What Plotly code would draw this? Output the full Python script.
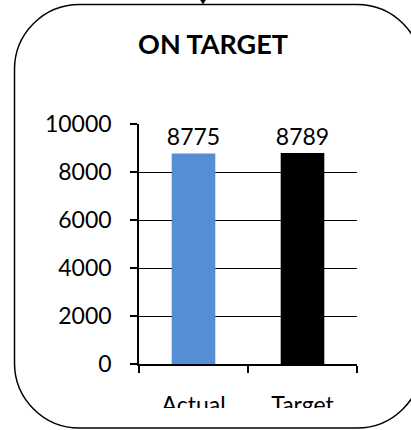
import plotly.graph_objects as go

# Chart data
categories = ["Actual", "Target"]
values = [8775, 8789]
bar_colors = ["#558ED5", "#000000"]
y_ticks = [0, 2000, 4000, 6000, 8000, 10000]
y_tick_labels = ["0", "2000", "4000", "6000", "8000", "10000"]
title_text = "ON TARGET"

W, H = 411, 430
L, R, T, B = 139, 54, 124, 66
PW, PH = W - L - R, H - T - B


def px_x(x):
    return (x - L) / PW


def px_y(y):
    return (H - B - y) / PH


def rounded_rect_path(x0, y0, x1, y1, r):
    k = 0.5523 * r
    pts = []
    pts.append(f"M {px_x(x0 + r)},{px_y(y0)}")
    pts.append(f"L {px_x(x1 - r)},{px_y(y0)}")
    pts.append(f"C {px_x(x1 - r + k)},{px_y(y0)} {px_x(x1)},{px_y(y0 + r - k)} {px_x(x1)},{px_y(y0 + r)}")
    pts.append(f"L {px_x(x1)},{px_y(y1 - r)}")
    pts.append(f"C {px_x(x1)},{px_y(y1 - r + k)} {px_x(x1 - r + k)},{px_y(y1)} {px_x(x1 - r)},{px_y(y1)}")
    pts.append(f"L {px_x(x0 + r)},{px_y(y1)}")
    pts.append(f"C {px_x(x0 + r - k)},{px_y(y1)} {px_x(x0)},{px_y(y1 - r + k)} {px_x(x0)},{px_y(y1 - r)}")
    pts.append(f"L {px_x(x0)},{px_y(y0 + r)}")
    pts.append(f"C {px_x(x0)},{px_y(y0 + r - k)} {px_x(x0 + r - k)},{px_y(y0)} {px_x(x0 + r)},{px_y(y0)}")
    pts.append("Z")
    return " ".join(pts)


FONT = "Lato, 'Open Sans', sans-serif"

fig = go.Figure(
    go.Bar(
        x=categories,
        y=values,
        marker=dict(color=bar_colors, line=dict(width=0)),
        width=0.4,
        text=[str(v) for v in values],
        textposition="outside",
        constraintext="none",
        textfont=dict(family=FONT, size=23, color="#000000"),
        cliponaxis=False,
    )
)

shapes = [
    # cut-off strip below the category labels
    dict(type="rect", xref="paper", yref="paper", layer="above",
         x0=px_x(145), x1=px_x(350), y0=px_y(426), y1=px_y(408),
         fillcolor="white", line=dict(width=0)),
    # rounded frame
    dict(type="path", xref="paper", yref="paper", layer="above",
         path=rounded_rect_path(14.5, 4.5, 422, 428, 65),
         line=dict(color="#000000", width=1.5), fillcolor="rgba(0,0,0,0)"),
    # small marker on the top edge
    dict(type="path", xref="paper", yref="paper", layer="above",
         path=f"M {px_x(200.5)},{px_y(0)} L {px_x(205.5)},{px_y(0)} L {px_x(203)},{px_y(4)} Z",
         fillcolor="#000000", line=dict(color="#000000", width=0.5)),
]

fig.update_layout(
    width=W,
    height=H,
    margin=dict(l=L, r=R, t=T, b=B, pad=0),
    paper_bgcolor="white",
    plot_bgcolor="white",
    showlegend=False,
    bargap=0.6,
    title=dict(
        text=f"<b>{title_text}</b>",
        xref="container", x=213 / W, xanchor="center",
        yref="container", y=1 - 45 / H, yanchor="middle",
        font=dict(family=FONT, size=27, color="#000000"),
    ),
    shapes=shapes,
    xaxis=dict(
        showline=True, linecolor="#000000", linewidth=1.5,
        ticks="outside", tickson="boundaries", ticklen=7, tickwidth=1.5, tickcolor="#000000",
        tickfont=dict(family=FONT, size=23, color="#000000"),
        ticklabelstandoff=20,
        showgrid=False,
        fixedrange=True,
    ),
    yaxis=dict(
        range=[0, 10000],
        tickvals=y_ticks,
        ticktext=y_tick_labels,
        showline=True, linecolor="#000000", linewidth=1.5,
        ticks="outside", ticklen=7, tickwidth=1.5, tickcolor="#000000",
        showgrid=True, gridcolor="#000000", gridwidth=1.3,
        zeroline=False,
        tickfont=dict(family=FONT, size=23, color="#000000"),
        ticklabelstandoff=14,
        fixedrange=True,
    ),
)

fig.write_html("out.html")
